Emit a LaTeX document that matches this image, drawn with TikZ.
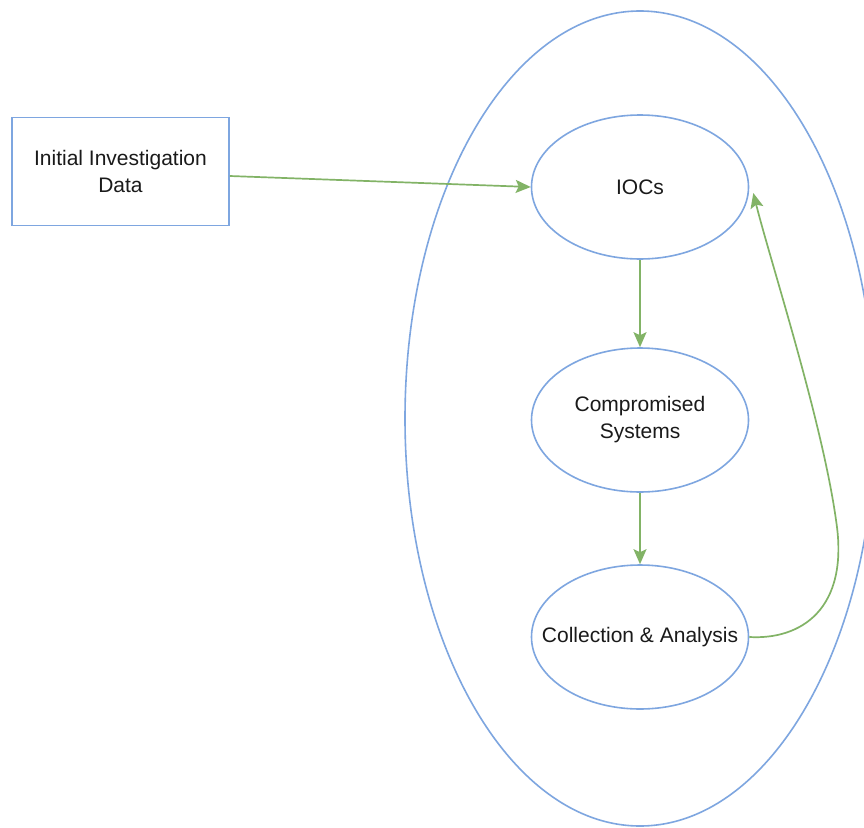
\documentclass[tikz,border=0pt]{standalone}
\usepackage{fontspec}
\setmainfont{Liberation Sans}
\usetikzlibrary{shapes.geometric,arrows.meta}
\definecolor{edgeblue}{HTML}{7EA6E0}
\definecolor{flowgreen}{HTML}{82B366}
\definecolor{txt}{HTML}{1A1A1A}
\tikzset{
  label text/.style={align=center,text=txt,font=\fontsize{21}{27}\selectfont,inner sep=0pt},
  stage/.style={ellipse,draw=edgeblue,line width=1.6pt,minimum width=217pt,minimum height=144pt,inner sep=0pt,
    label={[label text]center:#1}},
  databox/.style={rectangle,draw=edgeblue,line width=1.6pt,minimum width=217pt,minimum height=108pt,inner sep=0pt,label text},
  flow/.style={draw=flowgreen,line width=1.7pt,-{Stealth[length=15pt,width=13pt,inset=3pt]}}
}
\begin{document}
\begin{tikzpicture}[x=1pt,y=-1pt]
\clip (0,0) rectangle (864,827);
\fill[white] (0,0) rectangle (864,827);
% enclosing ellipse around the loop
\node[ellipse,draw=edgeblue,line width=1.6pt,minimum width=470pt,minimum height=815pt,inner sep=0pt] (scope) at (640,418.5) {};
% input data
\node[databox] (init) at (120.5,171.5) {Initial Investigation\\Data};
% stages
\node[stage={IOCs}] (iocs) at (640,187) {};
\node[stage={Compromised\\Systems}] (comp) at (640,420) {};
\node[stage={Collection \& Analysis}] (coll) at (640,637) {};
% connectors
\draw[flow] ([yshift=-4.5pt]init.east) -- (iocs.west);
\draw[flow] (iocs.south) -- (comp.north);
\draw[flow] (comp.south) -- (coll.north);
\draw[flow] (coll.east) .. controls (800,640) and (850,610) .. (836,520) .. controls (822,420) and (770,260) .. ([xshift=4pt,yshift=-6pt]iocs.east);
\end{tikzpicture}
\end{document}
